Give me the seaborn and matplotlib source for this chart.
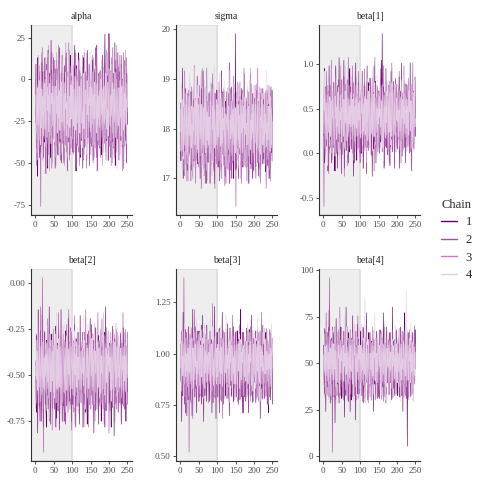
import matplotlib
matplotlib.use("Agg")
import matplotlib.pyplot as plt
from matplotlib.lines import Line2D
from matplotlib.ticker import MultipleLocator
import numpy as np
import pandas as pd
import seaborn as sns

params = ["alpha", "sigma", "beta[1]", "beta[2]", "beta[3]", "beta[4]"]
chains = ["1", "2", "3", "4"]
chain_colors = ["#660066", "#a64ca6", "#bf7fbf", "#e5cce5"]
n_warmup = 100
tick_steps = [25, 1, 0.5, 0.25, 0.25, 25]

# value scale for each parameter: code 0, 10, 20, ... 100
alpha_scale = [-76, -58, -42, -33, -24.5, -16, -7.5, 1, 10, 25, 28]
sigma_scale = [16.4, 16.6, 17.1, 17.42, 17.74, 18.05, 18.36, 18.68, 19.0, 19.55, 19.95]
beta1_scale = [-0.66, -0.35, -0.05, 0.11, 0.265, 0.42, 0.575, 0.73, 0.89, 1.2, 1.36]
beta2_scale = [-0.93, -0.88, -0.72, -0.635, -0.55, -0.465, -0.38, -0.295, -0.21, -0.05, 0.06]
beta3_scale = [0.5, 0.6, 0.74, 0.81, 0.88, 0.95, 1.02, 1.09, 1.16, 1.3, 1.4]
beta4_scale = [1, 12, 27, 35, 42.5, 50, 57.5, 65, 72.5, 88, 98]

# draws per chain (250 iterations each), coded 00-99 on the scale above
alpha_draws = [
    "43 79 21 65 47 10 82 38 54 26 71 37 63 19 45 22 58 80 36 74 49 61 17 53 25 "
    "82 36 70 48 54 27 61 39 13 85 58 72 46 20 64 17 33 89 51 75 40 28 64 36 82 "
    "57 24 68 13 42 76 35 81 29 64 18 53 47 72 31 86 25 59 44 16 73 38 62 27 55 "
    "34 67 15 78 52 23 69 41 84 37 56 12 65 48 27 74 39 61 18 83 46 29 57 71 33 "
    "68 42 19 55 76 31 87 24 63 45 12 78 36 59 41 22 67 84 30 53 75 17 48 62 39 "
    "26 71 44 13 58 82 37 65 21 49 74 33 56 18 67 42 85 28 61 35 79 14 53 47 24 "
    "35 58 22 69 43 81 16 57 32 74 48 25 63 86 39 52 17 68 44 29 73 36 57 54 21 "
    "62 33 75 18 47 56 24 83 41 67 29 52 78 97 44 63 37 85 26 58 71 34 49 16 98 "
    "71 28 56 43 17 64 38 82 25 59 46 73 21 65 37 88 14 52 76 33 48 61 27 84 45 "
    "52 16 74 39 65 28 47 83 31 58 22 69 44 77 13 56 35 81 26 62 49 18 73 37 54",
    "56 38 72 14 47 65 23 81 49 36 17 58 74 42 00 61 27 53 86 35 44 19 67 32 75 "
    "28 63 45 11 79 54 37 82 24 66 41 18 57 73 35 62 29 84 46 13 71 38 55 27 64 "
    "47 25 81 36 58 14 69 43 22 76 51 34 87 18 63 45 29 72 56 38 15 67 83 24 49 "
    "73 41 16 64 35 57 82 28 46 19 74 53 37 61 25 88 42 16 59 33 78 21 64 47 36 "
    "19 56 44 78 27 63 38 85 12 51 69 34 76 45 23 58 81 37 62 14 47 73 28 55 42 "
    "65 32 77 23 48 16 59 84 37 62 28 45 71 13 56 39 82 24 67 51 35 78 18 43 61 "
    "38 74 26 57 41 83 15 62 47 29 76 33 58 21 65 44 87 12 53 36 69 25 48 74 31 "
    "54 17 63 45 28 71 36 82 19 57 43 66 24 78 35 52 16 69 41 84 27 58 33 75 46 "
    "22 67 48 31 75 14 59 43 86 27 62 38 53 17 74 45 28 81 36 63 19 55 72 34 48 "
    "77 35 52 18 64 41 26 79 33 57 12 68 45 84 23 56 38 71 27 63 46 15 82 39 54",
    "64 51 38 72 27 45 16 83 56 34 78 22 61 47 35 53 84 29 67 41 16 74 38 52 63 "
    "27 69 45 82 33 58 14 71 46 25 87 38 55 12 66 43 79 24 51 37 68 15 84 32 57 "
    "46 23 75 38 61 17 52 84 29 73 44 66 18 57 35 82 41 27 63 48 19 76 53 36 64 "
    "71 38 56 14 67 42 25 88 33 59 46 17 74 52 28 63 39 85 21 54 43 76 31 68 45 "
    "34 62 18 77 45 53 26 69 41 84 13 56 38 72 27 64 47 19 82 36 58 23 67 44 71 "
    "52 27 83 41 65 34 18 76 43 59 22 68 37 84 16 55 46 73 28 61 35 47 79 24 56 "
    "18 63 47 25 74 56 31 82 44 17 66 38 53 27 85 42 61 34 76 19 58 45 23 67 39 "
    "45 74 26 58 37 81 14 63 52 28 77 41 36 65 19 54 83 27 48 62 35 71 16 56 43 "
    "63 38 57 21 46 75 33 68 15 84 42 27 59 66 34 18 73 45 52 87 24 61 37 79 48 "
    "27 56 44 83 18 62 39 75 51 26 68 34 47 13 79 55 22 64 41 85 36 58 29 73 46",
    "58 31 72 44 19 63 52 37 81 26 55 68 41 23 74 47 35 62 16 57 43 78 29 51 66 "
    "34 69 22 56 75 41 28 63 47 84 32 58 17 66 45 71 38 24 59 52 79 36 64 27 48 "
    "73 25 51 64 38 17 68 45 82 31 57 42 76 22 61 49 33 72 54 18 67 39 85 44 26 "
    "42 77 33 59 21 66 48 74 29 53 16 71 37 62 84 28 46 57 35 73 24 65 41 53 79 "
    "27 54 83 36 62 45 19 71 58 33 76 24 49 67 38 81 43 22 64 56 31 78 47 18 69 "
    "65 38 46 21 73 57 34 86 42 27 61 52 79 35 18 68 44 56 25 72 39 63 51 84 32 "
    "49 82 28 63 37 54 74 23 58 41 67 19 53 78 45 31 66 37 84 26 57 42 71 35 61 "
    "22 56 69 44 81 33 47 62 18 75 52 38 64 27 56 73 41 85 34 48 16 67 53 29 76 "
    "71 45 36 58 26 79 43 55 67 31 84 48 22 62 39 74 57 28 46 69 35 12 63 51 38 "
    "36 63 54 17 68 42 77 29 51 64 23 57 81 44 33 72 26 59 47 78 38 55 24 66 49",
]
sigma_draws = [
    "46 28 65 37 53 84 31 58 42 19 67 35 52 74 26 48 63 39 57 22 71 44 36 62 55 "
    "33 58 24 72 45 38 67 19 54 63 41 28 76 47 35 59 23 68 52 44 81 37 26 61 48 "
    "62 37 49 18 66 53 29 74 41 57 35 83 46 24 58 67 32 51 45 16 69 38 55 27 63 "
    "27 55 71 43 36 62 48 21 59 34 77 45 52 28 64 39 57 16 68 43 31 56 73 38 47 "
    "58 41 29 65 52 17 73 46 38 61 24 54 67 33 48 72 29 57 41 63 35 19 66 52 44 "
    "36 69 53 27 47 58 32 86 44 22 63 51 38 75 29 56 42 67 34 18 59 47 71 26 99 "
    "54 23 66 41 78 36 52 18 61 45 33 69 27 57 48 74 31 62 39 24 65 53 43 82 37 "
    "41 62 35 56 27 68 49 33 72 16 55 43 64 38 51 26 77 44 59 31 68 36 22 54 63 "
    "68 34 52 24 59 45 73 37 28 63 51 19 66 42 57 35 71 29 48 62 38 55 26 74 43 "
    "29 56 43 67 38 21 62 54 33 71 46 25 58 64 37 49 18 68 52 41 75 33 57 28 61",
    "65 52 28 43 76 41 35 18 62 57 34 83 47 26 71 38 54 22 66 45 17 58 36 73 44 "
    "57 31 64 48 22 75 36 53 18 67 42 29 85 37 54 16 63 46 28 71 35 57 41 24 68 "
    "43 76 27 55 38 62 14 47 83 33 58 25 66 41 19 74 52 36 48 63 27 84 45 31 56 "
    "28 54 41 67 35 16 72 44 58 26 63 37 82 45 23 56 38 71 14 62 47 35 58 26 73 "
    "61 37 52 24 78 43 29 65 36 57 18 83 46 32 67 54 25 48 73 38 15 62 44 57 36 "
    "46 23 67 38 55 71 34 16 62 47 28 74 53 39 18 65 42 27 56 81 33 47 64 22 58 "
    "02 63 45 28 74 36 57 19 66 42 33 78 25 54 47 16 62 38 73 45 29 56 84 37 51 "
    "38 57 24 66 42 17 73 55 31 48 64 27 59 36 82 44 23 67 52 35 18 71 46 63 27 "
    "54 32 76 45 18 63 38 52 27 84 46 35 61 23 57 74 39 16 65 48 33 56 27 72 44 "
    "67 26 43 58 35 72 47 14 63 38 55 28 76 41 24 57 66 33 48 17 62 45 38 73 56",
    "47 53 66 28 41 74 35 57 22 63 48 36 71 25 54 43 17 62 38 56 45 73 27 51 64 "
    "32 58 45 17 67 43 26 55 72 38 61 24 46 83 35 52 18 66 41 57 33 76 44 28 63 "
    "56 41 27 73 35 62 48 14 57 36 84 45 23 68 51 37 62 26 43 75 38 54 17 66 47 "
    "63 28 55 46 72 34 17 58 43 67 25 52 38 76 44 21 65 53 36 48 71 27 56 42 35 "
    "24 67 43 58 31 76 45 22 63 37 54 18 68 45 33 57 74 26 42 61 35 53 47 16 72 "
    "58 36 47 74 22 53 66 38 45 17 62 55 33 71 48 26 57 43 64 35 28 76 41 57 36 "
    "41 72 26 53 64 37 48 25 77 56 32 43 66 18 54 47 63 28 71 36 52 44 25 68 53 "
    "67 44 58 31 46 62 24 73 38 55 47 16 63 52 37 84 45 26 57 43 68 33 54 21 66 "
    "35 58 22 66 54 43 77 36 48 27 65 53 34 71 45 18 62 56 37 42 74 28 55 63 38 "
    "52 27 63 45 36 68 41 57 24 73 46 35 62 18 55 44 67 33 58 26 71 47 36 64 43",
    "61 34 48 76 23 55 67 41 29 72 53 38 81 46 19 64 57 32 74 43 26 69 51 37 82 "
    "44 78 25 59 63 36 51 18 73 47 62 29 55 84 38 42 67 23 58 71 35 49 76 27 64 "
    "27 53 69 42 81 31 64 57 24 46 75 38 62 16 53 79 44 33 68 57 22 74 41 59 36 "
    "72 38 56 21 47 66 33 78 52 41 19 63 48 74 27 57 85 36 61 44 29 52 67 38 73 "
    "35 64 43 77 28 59 82 46 37 68 54 26 71 39 62 17 55 48 79 31 66 43 24 58 51 "
    "56 21 74 48 63 35 54 27 69 83 42 57 31 66 45 73 28 61 38 52 77 24 47 62 33 "
    "43 68 32 55 79 47 23 64 41 57 36 74 52 18 67 46 58 33 71 25 63 49 82 37 56 "
    "69 45 61 26 52 38 76 55 31 63 48 22 66 79 35 54 41 72 27 58 46 64 33 76 42 "
    "28 57 73 39 64 51 19 47 68 36 81 53 44 27 61 75 32 56 49 67 24 58 71 38 45 "
    "64 33 48 71 25 58 46 83 37 52 29 67 41 63 54 22 76 45 34 69 57 38 62 26 53",
]
beta1_draws = [
    "36 47 82 18 25 53 71 64 28 42 56 37 15 68 44 83 26 57 33 72 45 18 64 38 52 "
    "63 27 48 74 36 15 59 42 83 23 67 38 54 16 72 45 31 86 48 27 62 35 57 14 76 "
    "24 58 43 67 31 85 42 16 57 73 38 62 25 49 76 33 54 18 67 41 24 82 56 37 63 "
    "75 41 26 58 64 37 13 72 46 55 28 84 37 61 43 19 66 52 38 74 27 56 45 63 18 "
    "52 36 68 23 47 81 34 57 16 64 43 72 28 55 38 66 14 47 83 32 58 25 74 46 37 "
    "41 64 35 77 22 56 48 13 68 37 59 26 83 44 31 75 52 18 63 47 36 71 24 58 43 "
    "68 23 57 44 76 31 52 85 37 99 46 63 28 71 54 17 66 38 45 82 27 53 64 36 48 "
    "35 72 46 18 63 55 27 44 81 36 52 67 24 48 75 33 58 16 64 42 77 29 53 38 61 "
    "57 26 64 42 35 78 16 53 47 68 32 84 45 21 56 63 38 74 27 51 46 65 18 73 37 "
    "44 63 28 56 72 41 37 65 23 58 84 36 47 62 15 73 55 32 48 67 26 54 41 78 35",
    "45 02 56 73 28 64 37 52 81 46 23 67 35 58 14 72 43 66 27 54 38 85 47 19 62 "
    "56 33 74 41 27 63 48 15 82 36 57 24 68 45 31 76 53 22 64 38 47 83 26 58 41 "
    "37 64 22 57 45 78 13 56 34 69 48 25 73 42 61 17 54 86 33 46 62 28 55 71 36 "
    "62 45 38 83 26 54 47 71 35 18 66 43 57 24 78 36 52 44 63 27 81 45 36 58 23 "
    "43 57 66 24 73 38 52 16 64 47 35 82 27 55 43 68 21 56 74 38 46 63 29 52 77 "
    "28 73 45 56 36 64 21 77 43 58 34 67 15 52 86 41 63 27 55 38 72 46 24 66 51 "
    "54 38 61 27 82 45 36 58 72 24 47 63 35 83 16 54 67 42 28 75 56 33 64 47 22 "
    "66 24 53 75 38 17 62 44 57 33 84 26 48 63 37 55 72 18 46 64 35 58 27 73 44 "
    "37 52 68 33 46 81 25 57 64 42 18 73 56 35 67 44 26 58 83 36 52 47 69 24 55 "
    "73 46 35 62 28 54 77 43 36 66 52 24 65 47 31 58 44 84 27 53 68 36 45 62 38",
    "52 44 63 37 58 26 47 65 33 54 72 41 56 38 67 45 23 62 51 36 74 43 55 28 61 "
    "47 63 35 56 24 68 52 37 74 45 33 58 26 66 43 57 38 71 46 25 63 54 37 48 66 "
    "63 36 54 47 72 38 26 57 44 65 53 31 68 42 56 24 73 47 35 62 55 43 28 66 52 "
    "38 57 66 23 45 53 74 36 62 47 28 56 43 67 35 52 64 26 57 45 73 38 54 61 33 "
    "56 42 37 68 54 27 63 45 36 72 48 57 25 63 44 58 36 71 42 27 66 53 47 35 62 "
    "45 66 27 54 63 38 46 72 24 57 43 66 35 48 52 27 74 56 33 45 62 38 57 44 68 "
    "27 53 64 42 36 71 55 33 58 46 24 67 43 56 35 63 47 28 72 54 36 45 63 52 37 "
    "64 38 45 57 26 63 43 66 37 52 74 28 55 46 33 67 42 58 36 53 47 24 65 57 42 "
    "43 67 32 55 72 44 28 56 64 37 53 45 68 24 57 36 63 47 38 74 52 35 46 62 27 "
    "58 35 62 47 43 66 55 27 48 63 36 54 73 41 26 65 53 38 57 44 67 32 55 46 63",
    "37 62 54 81 26 48 71 33 59 44 17 66 52 38 75 43 28 64 57 35 82 46 23 61 49 "
    "68 29 45 57 73 36 21 64 48 79 33 56 42 67 24 58 71 37 53 19 65 47 84 31 56 "
    "24 57 76 41 35 62 53 27 68 45 83 32 59 74 46 22 63 51 38 72 44 57 26 67 42 "
    "53 78 33 62 48 19 66 44 57 31 72 55 27 63 41 86 35 52 68 24 59 47 73 36 61 "
    "45 34 67 52 81 43 28 73 39 58 24 64 47 36 71 53 18 62 45 77 32 56 68 41 27 "
    "72 56 23 47 64 37 58 82 25 53 66 41 35 74 57 29 46 63 52 38 79 21 55 44 67 "
    "31 64 49 76 42 55 33 61 47 27 73 58 44 19 65 52 38 81 34 57 45 68 26 53 74 "
    "58 22 71 38 56 67 43 29 74 61 35 48 82 53 27 44 69 36 58 73 41 24 63 47 56 "
    "46 73 35 54 27 68 51 39 63 42 18 76 55 33 62 48 79 25 57 44 66 37 52 71 34 "
    "63 41 57 25 72 45 36 68 53 84 39 46 61 27 55 73 43 32 67 51 24 58 76 42 48",
]
beta2_draws = [
    "45 36 22 71 58 14 63 37 52 26 67 43 18 74 35 56 23 82 47 65 38 16 57 44 73 "
    "62 27 54 38 16 68 45 33 76 24 57 42 85 31 53 17 64 36 48 72 25 58 43 66 34 "
    "37 58 24 65 43 77 19 52 34 66 48 23 71 38 56 15 63 45 27 84 42 57 33 64 18 "
    "53 26 68 41 35 62 17 74 46 58 27 63 36 52 81 44 29 67 55 33 76 42 18 56 38 "
    "64 43 37 56 22 78 45 31 57 16 69 38 52 44 26 73 35 61 48 17 55 82 36 47 63 "
    "28 67 52 34 63 45 16 58 73 37 46 22 66 54 38 17 72 43 56 35 64 27 48 81 42 "
    "56 33 78 45 27 54 68 36 14 62 47 58 23 75 41 36 63 28 52 46 71 17 57 38 65 "
    "42 74 36 18 57 63 28 45 66 34 52 17 73 48 36 85 23 56 41 62 37 54 27 68 46 "
    "66 28 47 55 37 16 64 43 77 25 58 36 52 13 69 46 34 57 28 75 43 61 38 54 22 "
    "37 56 63 28 45 72 34 58 17 66 42 53 27 76 38 47 65 24 56 43 18 64 52 35 73",
    "53 46 28 72 35 63 17 84 46 38 57 24 66 42 85 18 53 67 31 97 44 02 62 36 57 "
    "74 38 55 22 67 46 33 58 81 27 63 45 18 56 72 36 54 27 43 68 15 62 47 36 75 "
    "46 63 28 57 44 16 73 38 55 64 27 52 83 45 36 62 24 58 47 71 33 56 18 66 43 "
    "35 72 56 43 18 67 45 54 26 78 38 63 47 22 56 84 35 43 66 27 52 74 37 15 58 "
    "62 27 44 68 53 36 82 17 64 45 33 57 26 73 48 55 38 66 21 47 63 35 76 52 28 "
    "57 45 73 16 38 62 54 27 48 66 35 84 43 57 24 38 65 52 16 74 43 27 58 36 63 "
    "24 66 38 54 72 43 27 58 35 67 52 18 76 46 33 55 62 24 47 83 36 53 45 28 67 "
    "68 35 52 27 46 81 38 63 24 57 43 72 35 16 64 48 53 27 76 38 45 62 33 58 14 "
    "45 57 23 73 36 54 66 42 58 31 75 46 27 63 52 18 47 68 35 56 24 73 44 36 62 "
    "33 64 47 56 28 73 45 18 62 37 54 46 83 26 57 35 68 43 22 75 38 53 64 27 46",
    "48 55 37 63 42 57 33 66 45 52 28 64 47 56 35 73 44 58 26 62 45 37 54 68 43 "
    "56 34 62 47 25 58 66 43 37 54 72 38 46 57 27 63 52 35 68 44 56 23 64 47 38 "
    "27 63 45 56 38 74 43 28 57 65 36 52 47 23 66 54 38 72 45 33 57 62 26 48 55 "
    "62 47 24 58 53 36 67 45 37 56 43 72 28 54 63 36 47 58 24 66 42 55 73 37 46 "
    "45 58 66 33 47 52 24 63 56 38 67 44 35 57 48 26 73 52 43 64 37 55 28 46 62 "
    "36 52 43 68 25 57 46 34 73 53 44 27 58 65 37 52 46 63 22 57 45 38 66 53 24 "
    "57 33 64 47 56 38 72 45 27 58 43 66 35 52 47 63 24 56 45 37 68 43 55 26 64 "
    "43 67 36 55 28 64 45 53 37 72 46 25 57 44 66 33 58 47 24 63 52 36 74 45 57 "
    "66 44 57 23 63 47 35 58 46 27 54 65 43 36 72 48 55 27 63 44 56 38 47 62 35 "
    "38 56 45 64 37 52 27 68 44 57 33 63 47 55 26 58 42 73 36 57 45 64 23 53 46",
    "52 27 68 43 61 36 79 47 22 56 73 38 64 45 29 58 84 33 51 67 24 46 71 38 57 "
    "36 74 45 59 23 66 52 41 77 31 48 63 19 57 72 44 35 68 26 53 61 42 79 34 55 "
    "65 42 31 72 56 28 47 83 37 62 54 26 69 45 38 74 52 21 64 47 33 59 76 43 28 "
    "44 57 78 34 49 63 22 58 71 45 36 81 53 27 62 46 68 39 55 74 31 47 56 64 37 "
    "71 33 52 66 41 25 74 46 59 32 67 48 38 76 23 57 43 65 28 53 82 36 49 61 42 "
    "28 63 47 55 82 39 57 34 68 52 41 24 73 56 44 63 31 78 45 37 58 66 27 54 73 "
    "57 45 69 23 54 71 36 62 43 27 79 55 47 61 34 52 75 44 22 67 48 38 63 56 31 "
    "39 76 34 58 47 62 51 25 66 83 42 33 57 71 46 28 63 54 41 72 35 59 24 68 52 "
    "64 48 57 36 73 29 45 68 52 37 61 74 26 48 55 67 38 53 79 32 46 64 57 23 71 "
    "45 52 26 67 38 56 63 47 31 75 49 58 36 64 27 53 71 42 58 35 66 28 54 73 44",
]
beta3_draws = [
    "64 38 72 15 47 56 28 83 36 44 67 22 58 41 74 35 53 17 66 47 28 75 43 56 32 "
    "46 71 25 58 34 63 17 52 84 38 45 66 27 54 42 76 33 58 18 65 47 36 72 24 57 "
    "73 27 54 43 66 35 58 22 47 82 36 64 15 57 43 28 71 56 38 62 24 77 45 53 36 "
    "38 55 67 24 46 73 31 58 42 65 18 53 76 37 44 62 27 85 46 33 57 16 64 48 72 "
    "27 64 43 57 36 18 75 52 33 68 47 24 56 83 38 45 66 22 54 37 72 46 28 63 51 "
    "55 36 78 42 63 27 48 56 17 64 35 72 44 28 57 66 38 52 24 76 43 58 33 67 45 "
    "43 66 27 54 38 73 56 22 67 45 36 58 84 26 53 41 64 37 18 72 55 46 27 63 38 "
    "66 24 57 36 75 48 33 62 45 18 57 74 36 53 27 65 44 82 38 56 23 47 68 35 52 "
    "37 57 44 68 23 55 66 38 74 42 27 63 56 35 48 72 16 57 45 33 64 26 53 77 41 "
    "58 43 26 63 47 35 72 54 28 56 43 67 34 18 62 55 37 74 46 25 58 63 36 47 22",
    "46 62 35 73 28 57 44 83 36 97 53 27 64 45 18 72 56 33 67 42 25 58 76 02 47 "
    "34 56 67 23 48 75 38 54 16 63 42 58 27 84 36 55 43 68 24 57 73 35 46 62 28 "
    "57 38 24 66 44 52 77 33 58 46 27 64 53 18 72 45 36 63 28 56 44 77 35 52 66 "
    "23 64 45 57 36 73 28 55 42 67 54 35 86 23 48 63 37 56 74 43 26 58 45 67 34 "
    "63 47 56 28 74 38 52 44 66 25 57 43 35 68 16 54 73 36 48 62 27 55 43 64 37 "
    "45 26 68 53 37 62 44 18 57 75 36 48 63 27 54 45 82 36 53 24 67 44 58 35 72 "
    "56 73 35 46 24 57 66 43 32 58 77 25 53 46 63 38 27 64 56 43 18 72 47 35 66 "
    "34 52 64 27 58 45 36 73 53 22 65 47 56 38 43 76 28 54 67 35 46 63 24 57 41 "
    "67 38 45 56 73 26 54 63 37 46 58 24 72 43 35 57 66 28 44 83 36 55 47 26 63 "
    "45 64 27 53 36 67 43 58 75 35 22 57 46 64 38 53 27 68 45 36 72 44 57 33 56",
    "52 45 63 38 56 47 66 34 53 72 44 27 58 63 45 37 55 68 42 53 36 64 47 55 28 "
    "43 67 36 54 47 23 62 55 38 46 67 53 35 72 44 56 27 63 48 55 36 67 43 24 58 "
    "66 34 57 45 28 63 52 47 74 38 55 43 62 27 57 46 36 65 53 44 72 37 56 45 63 "
    "37 55 44 68 53 36 47 62 25 57 46 73 38 54 66 43 28 57 45 63 38 52 67 44 35 "
    "58 46 27 54 64 45 73 36 52 47 63 24 56 68 35 47 54 62 28 45 57 36 64 53 46 "
    "45 63 56 37 46 58 24 67 44 55 36 62 47 33 58 73 45 54 37 66 42 57 25 63 53 "
    "27 52 64 48 33 57 66 45 56 27 73 44 53 38 62 47 35 58 64 27 53 46 68 37 55 "
    "64 38 45 57 72 36 53 28 63 45 57 36 66 47 24 55 63 42 35 57 48 73 36 54 46 "
    "43 57 66 35 48 53 27 64 45 62 38 54 26 67 45 36 57 73 44 53 62 25 47 58 35 "
    "56 44 37 62 55 27 68 43 54 36 65 47 58 34 53 66 42 27 63 45 36 57 54 68 43",
    "47 66 31 58 73 42 55 27 64 48 36 79 52 41 68 23 57 45 74 34 61 53 28 67 44 "
    "63 38 54 76 25 49 68 57 33 61 45 22 72 56 39 64 48 81 35 52 27 66 43 58 71 "
    "35 72 46 29 63 57 41 74 52 36 68 55 47 26 61 78 33 59 44 67 51 38 73 26 55 "
    "58 43 67 52 38 81 26 55 64 47 31 58 76 42 53 35 69 47 22 63 74 45 36 61 48 "
    "41 64 23 57 72 45 59 36 77 28 62 43 55 67 34 48 73 56 39 26 58 65 44 82 37 "
    "74 29 56 47 61 34 68 52 23 66 51 74 38 45 63 57 27 69 43 55 36 71 48 32 59 "
    "36 55 73 42 27 58 64 45 52 71 33 46 67 24 58 39 75 51 62 44 28 63 56 41 68 "
    "62 47 38 66 55 23 49 78 36 57 44 63 29 72 51 66 42 35 58 77 46 31 64 53 27 "
    "53 71 44 33 68 57 36 62 45 81 27 54 66 41 37 73 55 24 63 48 59 36 72 45 56 "
    "45 32 61 75 43 52 67 28 59 46 73 38 51 64 22 57 47 69 34 61 42 78 33 56 64",
]
beta4_draws = [
    "63 47 28 75 36 54 18 67 42 56 33 72 45 26 58 84 37 53 22 66 47 35 62 44 76 "
    "38 55 72 26 63 47 14 58 36 81 44 27 65 53 35 74 46 22 57 68 33 48 76 25 54 "
    "57 26 44 68 35 73 52 16 63 46 27 85 38 54 43 66 24 58 72 37 45 63 18 55 47 "
    "24 68 53 37 82 45 27 64 56 33 48 72 15 57 44 63 36 78 28 52 67 43 56 34 73 "
    "46 73 36 54 27 66 43 58 22 75 37 53 64 45 26 57 83 38 46 63 24 55 72 37 43 "
    "72 34 57 43 66 24 55 38 76 47 18 63 52 35 67 44 28 56 73 46 37 62 25 58 44 "
    "35 56 25 74 47 63 38 54 27 68 45 33 57 83 26 48 64 37 55 22 76 43 58 36 62 "
    "58 43 67 28 55 36 72 46 63 24 57 38 85 43 32 66 47 54 27 63 45 36 74 52 28 "
    "43 27 64 53 38 75 44 26 58 67 36 52 43 73 55 18 62 47 35 57 83 28 46 64 37 "
    "67 48 04 56 72 26 54 63 37 45 58 27 66 43 54 35 72 48 56 24 63 45 37 74 53",
    "55 38 64 47 26 73 45 83 57 36 62 44 27 76 53 38 98 66 43 57 24 68 46 35 01 "
    "64 27 53 45 76 38 62 55 24 67 43 58 36 72 47 26 63 54 38 85 45 27 57 66 33 "
    "47 63 36 58 24 55 72 43 66 35 53 27 64 48 76 34 52 45 23 68 56 37 74 44 28 "
    "62 44 57 26 73 38 55 66 42 27 58 73 36 47 63 24 56 45 82 34 67 52 28 45 63 "
    "37 58 43 67 35 54 23 76 46 62 33 57 44 68 27 53 75 36 48 63 45 22 57 66 38 "
    "54 26 72 45 63 37 48 58 35 74 46 27 63 55 38 66 24 57 43 72 35 54 67 26 47 "
    "27 65 48 36 57 44 73 25 62 53 36 68 45 23 57 76 34 55 42 64 28 73 46 53 36 "
    "66 43 55 72 28 57 36 64 47 33 58 25 74 46 63 37 52 28 67 45 36 58 73 43 54 "
    "52 36 67 44 58 27 63 45 36 76 53 42 27 65 48 55 38 72 26 57 64 35 48 66 25 "
    "38 63 27 56 45 68 33 52 74 47 26 63 55 37 46 72 28 57 64 43 35 56 77 46 58",
    "48 57 66 43 52 37 63 46 55 28 72 43 56 38 64 47 53 26 67 45 36 58 44 63 52 "
    "56 34 47 62 38 55 68 43 27 57 46 64 53 37 72 45 35 57 63 46 28 54 66 43 57 "
    "37 64 52 45 73 27 56 48 63 36 55 44 66 28 54 62 37 47 58 43 67 35 52 64 46 "
    "63 45 38 57 46 62 34 55 67 43 27 58 46 73 35 56 44 63 38 57 25 66 47 53 36 "
    "45 56 63 27 54 38 66 47 35 58 64 45 23 56 47 63 38 72 45 34 57 46 63 28 55 "
    "57 38 46 64 43 55 27 63 48 36 57 67 44 38 54 46 63 25 56 47 68 36 53 45 62 "
    "34 63 55 46 67 37 53 45 24 58 46 33 64 56 43 27 57 65 38 54 45 62 36 57 44 "
    "65 46 27 58 36 64 47 55 43 62 35 54 47 26 63 57 45 38 66 52 28 47 63 55 37 "
    "46 55 64 37 52 43 68 36 57 45 63 28 56 47 34 62 53 45 73 38 56 44 27 64 53 "
    "53 37 46 63 57 24 55 67 43 36 58 46 63 54 27 48 66 37 55 43 62 35 57 46 64",
    "56 33 71 45 62 28 54 77 41 63 37 52 69 24 58 46 73 35 61 49 27 66 53 42 74 "
    "38 64 52 27 75 46 59 33 68 44 21 57 72 48 36 63 54 81 29 56 43 67 38 61 52 "
    "71 45 26 63 54 37 82 48 57 31 66 42 53 76 24 59 47 35 68 55 39 72 28 63 46 "
    "44 58 67 35 49 72 41 23 64 56 78 33 47 62 51 27 69 44 57 38 63 53 76 32 58 "
    "63 27 53 78 36 61 45 57 34 68 52 42 88 47 22 56 65 38 73 49 31 58 67 44 37 "
    "35 72 46 57 24 65 53 39 76 41 59 28 62 54 83 37 46 68 25 57 44 71 36 52 64 "
    "59 48 63 31 71 43 27 66 52 37 74 56 42 63 35 58 79 24 54 67 45 33 61 48 72 "
    "47 63 38 54 66 29 58 45 73 56 32 67 51 26 62 48 71 39 56 44 77 27 64 53 36 "
    "68 36 57 44 52 75 33 61 47 23 64 57 38 72 46 53 29 66 58 35 49 74 41 56 91 "
    "33 55 74 49 38 63 46 27 68 52 61 36 79 44 57 32 65 48 23 71 54 41 62 37 58",
]

scales = [alpha_scale, sigma_scale, beta1_scale, beta2_scale, beta3_scale, beta4_scale]
draws = [alpha_draws, sigma_draws, beta1_draws, beta2_draws, beta3_draws, beta4_draws]

frames = []
for p, sc, dr in zip(params, scales, draws):
    for ch, s in zip(chains, dr):
        codes = np.array([int(t) for t in s.split()])
        vals = np.interp(codes / 10, np.arange(len(sc)), sc)
        frames.append(pd.DataFrame({"parameter": p, "chain": ch,
                                    "iteration": np.arange(1, len(codes) + 1),
                                    "value": vals}))
df = pd.concat(frames, ignore_index=True)

sns.set_style("ticks")
plt.rcParams["font.family"] = ["Liberation Serif", "DejaVu Serif"]
plt.rcParams["axes.unicode_minus"] = False

fig = plt.figure(figsize=(4.8, 4.8), dpi=100)

# panel boxes in pixels
lefts = [31, 176, 319]
rights = [132, 277, 420]
tops = [25, 269]
bottoms = [215, 461]

palette = dict(zip(chains, chain_colors))
for k, p in enumerate(params):
    r, c = divmod(k, 3)
    ax = fig.add_axes([lefts[c] / 480, 1 - bottoms[r] / 480,
                       (rights[c] - lefts[c]) / 480, (bottoms[r] - tops[r]) / 480])
    ax.axvspan(-50, n_warmup, facecolor="#eeeeee", edgecolor="#dcdcdc", lw=1.2, zorder=0)
    sns.lineplot(data=df[df["parameter"] == p], x="iteration", y="value",
                 hue="chain", hue_order=chains, palette=palette, estimator=None,
                 sort=False, linewidth=0.42, legend=False, ax=ax)
    ax.set_xlim(-11.45, 262.45)
    ax.xaxis.set_major_locator(MultipleLocator(50))
    ax.yaxis.set_major_locator(MultipleLocator(tick_steps[k]))
    ax.set_xlabel("")
    ax.set_ylabel("")
    ax.set_title(p, fontsize=7, pad=4, color="#222222")
    for side in ["top", "right"]:
        ax.spines[side].set_visible(False)
    for side in ["left", "bottom"]:
        ax.spines[side].set_color("#333333")
        ax.spines[side].set_linewidth(0.8)
    ax.tick_params(labelsize=6.5, labelcolor="#4d4d4d", length=2.5, width=0.6,
                   color="#333333", pad=1.5)
    ax.grid(False)

handles = [Line2D([], [], color=col, lw=1.0) for col in chain_colors]
fig.legend(handles, chains, title="Chain", loc="center left",
           bbox_to_anchor=(0.895, 0.5), frameon=False, fontsize=9,
           title_fontsize=9, handlelength=1.3, handletextpad=0.7,
           labelspacing=0.45)

fig.savefig("out.png", dpi=100)
